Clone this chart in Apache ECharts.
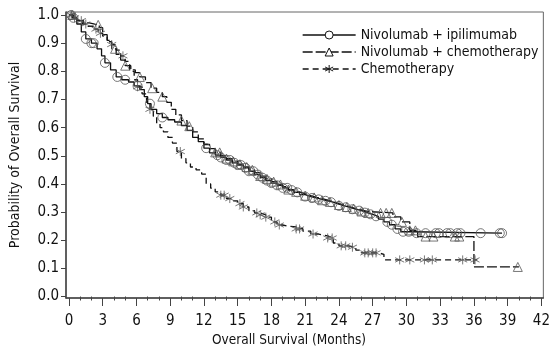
<!DOCTYPE html>
<html><head><meta charset="utf-8">
<script src="https://cdn.jsdelivr.net/npm/echarts@6/dist/echarts.min.js"></script>
<style>html,body{margin:0;padding:0;background:#fff}#c{width:553px;height:350px}</style>
</head><body><div id="c"></div>
<script>
// ---- Data ----
const seriesNames = ['Nivolumab + ipilimumab', 'Nivolumab + chemotherapy', 'Chemotherapy'];
const xTicks = [0,3,6,9,12,15,18,21,24,27,30,33,36,39,42];
const yTicks = [0,0.1,0.2,0.3,0.4,0.5,0.6,0.7,0.8,0.9,1.0];

// Nivolumab + ipilimumab: KM step points [month, survival]
const nivoIpiT = [0,0.3,0.7,1.1,1.5,2.0,2.5,2.9,3.2,3.7,4.2,4.7,5.3,5.8,6.3,6.7,7.0,7.3,7.8,8.3,8.8,9.4,10.0,10.5,11.0,11.5,12.0,12.5,13.0,13.5,14.0,14.5,15.0,15.5,16.0,16.5,17.0,17.5,18.0,18.5,19.0,19.5,20.0,20.5,21.0,21.5,22.0,22.5,23.0,23.5,24.0,24.5,25.0,25.5,26.0,26.5,27.0,27.5,28.0,28.5,29.0,29.5,30.5,38.5];
const nivoIpiS = [1.0,0.99,0.968,0.94,0.915,0.9,0.88,0.855,0.83,0.805,0.78,0.77,0.762,0.748,0.735,0.71,0.685,0.665,0.65,0.636,0.628,0.62,0.607,0.59,0.565,0.55,0.527,0.51,0.502,0.494,0.485,0.475,0.467,0.457,0.445,0.433,0.422,0.412,0.403,0.395,0.386,0.378,0.37,0.362,0.355,0.35,0.345,0.34,0.335,0.328,0.322,0.317,0.31,0.305,0.298,0.292,0.285,0.275,0.265,0.255,0.24,0.23,0.225,0.225];
const nivoIpiCens = [0.2,0.4,1.5,2.0,2.2,3.2,4.3,5.0,6.1,7.2,8.3,12.2,13.2,13.5,14.0,14.3,14.7,15.0,15.3,15.7,16.0,16.4,16.8,17.2,17.6,18.0,18.5,19.0,19.4,19.8,20.3,21.0,21.6,22.2,22.8,23.3,24.0,24.6,25.2,25.8,26.3,26.8,27.3,28.3,28.7,29.2,29.7,30.2,30.9,31.7,32.6,32.9,33.6,33.9,34.5,34.8,36.6,38.3,38.5];

// Nivolumab + chemotherapy
const nivoChemoT = [0,0.4,0.8,1.3,1.8,2.3,2.7,3.0,3.4,3.8,4.2,4.6,5.0,5.5,5.9,6.3,6.8,7.3,7.8,8.3,8.7,9.1,9.5,10.0,10.5,11.0,11.5,12.0,12.5,13.0,13.5,14.0,14.5,15.0,15.5,16.0,16.5,17.0,17.5,18.0,18.5,19.0,19.5,20.0,20.5,21.0,21.5,22.0,22.5,23.0,23.5,24.0,24.5,25.0,25.5,26.0,26.5,28.8,29.5,30.3,31.0,36.0,40.0];
const nivoChemoS = [1.0,0.99,0.98,0.972,0.968,0.965,0.955,0.93,0.905,0.88,0.86,0.84,0.82,0.805,0.795,0.78,0.76,0.74,0.725,0.71,0.69,0.665,0.645,0.625,0.605,0.585,0.56,0.54,0.525,0.512,0.5,0.49,0.48,0.47,0.46,0.45,0.44,0.428,0.418,0.408,0.398,0.39,0.38,0.372,0.365,0.358,0.352,0.348,0.342,0.336,0.33,0.325,0.318,0.312,0.308,0.302,0.297,0.283,0.265,0.235,0.213,0.105,0.105];
const nivoChemoCens = [0.3,2.6,4.1,5.0,6.3,7.4,8.3,10.0,10.7,13.0,13.4,14.0,14.6,15.2,15.8,16.3,17.0,17.6,18.2,18.8,19.5,20.2,21.0,21.8,22.5,23.2,24.0,24.7,25.3,26.0,26.6,27.7,28.2,28.7,29.6,30.3,30.8,31.7,32.4,34.3,34.7,39.9];

// Chemotherapy
const chemoT = [0,0.3,0.7,1.2,1.7,2.2,2.6,3.0,3.4,3.8,4.2,4.6,5.0,5.4,5.8,6.1,6.5,6.9,7.2,7.5,7.8,8.1,8.4,8.8,9.2,9.6,10.0,10.4,10.8,11.3,11.8,12.2,12.6,13.0,13.5,14.0,14.5,15.0,15.5,16.0,16.5,17.0,17.5,18.0,18.5,19.0,19.5,20.2,20.8,21.5,22.2,23.0,23.5,24.0,24.8,25.5,26.0,27.5,28.0,36.3];
const chemoS = [1.0,0.99,0.98,0.968,0.96,0.95,0.935,0.925,0.91,0.895,0.875,0.855,0.835,0.8,0.77,0.745,0.72,0.69,0.665,0.64,0.615,0.6,0.585,0.565,0.545,0.515,0.49,0.475,0.46,0.45,0.435,0.4,0.385,0.372,0.36,0.348,0.34,0.33,0.318,0.305,0.297,0.29,0.282,0.265,0.254,0.25,0.247,0.24,0.232,0.222,0.215,0.208,0.19,0.18,0.175,0.165,0.155,0.15,0.13,0.13];
const chemoCens = [0.2,0.5,1.1,1.5,2.4,2.8,3.8,4.8,6.1,7.2,9.9,13.5,13.8,14.3,15.2,15.5,16.7,17.0,17.5,18.3,18.7,20.2,20.5,21.7,23.0,23.4,24.2,24.6,25.2,26.3,26.6,27.0,27.3,29.4,30.3,31.6,32.3,35.0,36.1];

// ---- helpers ----
function zip(t, s){ return t.map((v,i)=>[v, s[i]]); }
function censPts(cens, t, s){
  return cens.map(c=>{ let k=0; for(let i=0;i<t.length;i++){ if(t[i]<=c) k=i; } return [c, s[k]]; });
}
const FONT = "'DejaVu Sans Condensed','Liberation Sans Narrow',sans-serif";
const asterisk = 'path://M5,0L5,10M0.7,2.5L9.3,7.5M0.7,7.5L9.3,2.5';
const minorX = []; for(let i=1;i<42;i++){ if(i%3!==0) minorX.push(i); }

const lineCol = '#111';
const markCol = '#555';
const styles = [
  {sym:'circle', dash:'solid'},
  {sym:'triangle', dash:[10,3]},
  {sym:asterisk, dash:[6,4]}
];
const curves = [zip(nivoIpiT,nivoIpiS), zip(nivoChemoT,nivoChemoS), zip(chemoT,chemoS)];
const cens = [censPts(nivoIpiCens,nivoIpiT,nivoIpiS), censPts(nivoChemoCens,nivoChemoT,nivoChemoS), censPts(chemoCens,chemoT,chemoS)];

const series = [];
for(let i=0;i<3;i++){
  series.push({
    name: seriesNames[i], type:'line', step:'end', data:curves[i],
    showSymbol:false, symbol:styles[i].sym, symbolSize:9,
    lineStyle:{color:lineCol, width:1.3, type:styles[i].dash},
    itemStyle:{color:'#fff', borderColor:lineCol, borderWidth:1},
    animation:false, silent:true
  });
  series.push({
    name: seriesNames[i], type:'scatter', data:cens[i],
    symbol:styles[i].sym, symbolSize:9,
    itemStyle:{color:'none', borderColor:markCol, borderWidth:1},
    animation:false, silent:true, z:3
  });
}

const chart = echarts.init(document.getElementById('c'), null, {renderer:'canvas'});
chart.setOption({
  backgroundColor:'#fff',
  animation:false,
  grid:{left:62, right:3, top:12, bottom:52, show:true, borderColor:'#666', borderWidth:1},
  legend:{
    orient:'vertical', left:297, top:23, itemWidth:53, itemHeight:10, itemGap:3,
    data:seriesNames,
    lineStyle:{color:'#111', width:1.3},
    itemStyle:{color:'#fff', borderColor:'#111', borderWidth:1},
    textStyle:{fontFamily:FONT, fontSize:14, color:'#111'},
    selectedMode:false
  },
  xAxis:[{
    type:'value', min:-0.26, max:42.17,
    axisLine:{show:true, onZero:false, lineStyle:{color:'#444', width:1.5}},
    axisTick:{show:true, length:8, customValues:xTicks, lineStyle:{color:'#444'}},
    axisLabel:{customValues:xTicks, fontFamily:FONT, fontSize:15, color:'#111', margin:16},
    splitLine:{show:false}
  },{
    type:'value', min:-0.26, max:42.17, position:'bottom',
    axisLine:{show:false},
    axisTick:{show:true, length:4, customValues:minorX, lineStyle:{color:'#444'}},
    axisLabel:{show:false}, splitLine:{show:false}
  }],
  yAxis:{
    type:'value', min:-0.0053, max:1.0107,
    name:'Probability of Overall Survival', nameLocation:'middle', nameGap:44,
    nameTextStyle:{fontFamily:FONT, fontSize:14, color:'#111'},
    axisLine:{show:true, onZero:false, lineStyle:{color:'#444', width:1.5}},
    axisTick:{show:true, length:5, customValues:yTicks, lineStyle:{color:'#444'}},
    axisLabel:{customValues:yTicks, formatter:v=>v.toFixed(1), fontFamily:FONT, fontSize:15, color:'#111', margin:7},
    splitLine:{show:false}
  },
  graphic:[{type:'text', x:289, y:340, style:{text:'Overall Survival (Months)', fontFamily:FONT, fontSize:13.5, fill:'#111', align:'center', verticalAlign:'middle'}}],
  series:series
});
</script></body></html>
